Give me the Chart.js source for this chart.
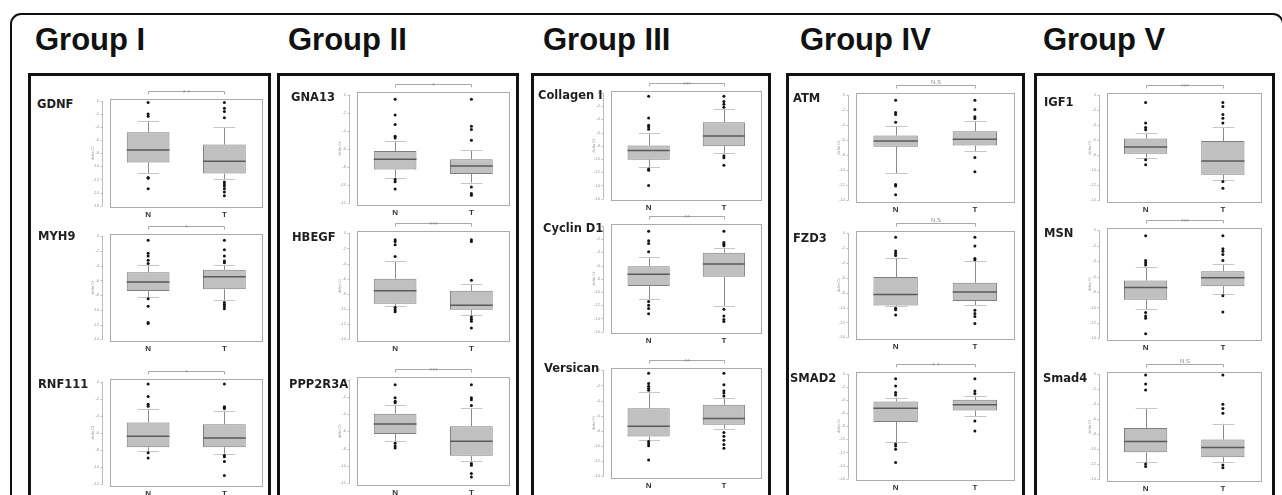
<!DOCTYPE html>
<html>
<head>
<meta charset="utf-8">
<script src="https://cdn.jsdelivr.net/npm/chart.js@4.4.1/dist/chart.umd.min.js"></script>
<style>
  html, body { margin: 0; padding: 0; background: #fff; }
  #fig { position: relative; width: 1282px; height: 495px; overflow: hidden; background: #fff;
         font-family: "Liberation Sans", Arial, sans-serif; }
  .outer { position: absolute; left: 10px; top: 13px; width: 1274px; height: 530px;
           border: 2px solid #111; border-radius: 11px; box-sizing: border-box; }
  .gtitle { position: absolute; top: 22px; font-weight: bold; font-size: 31px; line-height: 36px;
            color: #111; white-space: nowrap; }
  .panel { position: absolute; top: 73px; height: 470px; border: 3px solid #111; box-sizing: border-box; }
  .gene { position: absolute; font-family: "DejaVu Sans", sans-serif; font-weight: bold; font-size: 11.5px;
          line-height: 14px; color: #1f1f1f; white-space: nowrap; transform: translateY(-50%); }
  canvas { position: absolute; }
</style>
</head>
<body>
<div id="fig"><div class="outer"></div></div>
<script>
// ---- data ----
const groupNames = ['Group I', 'Group II', 'Group III', 'Group IV', 'Group V'];
const genes = ['GDNF', 'MYH9', 'RNF111', 'GNA13', 'HBEGF', 'PPP2R3A', 'Collagen I', 'Cyclin D1',
               'Versican', 'ATM', 'FZD3', 'SMAD2', 'IGF1', 'MSN', 'Smad4'];
const sampleLabels = ['N', 'T'];
const significance = ['* *', '*', '*', '*', '***', '***', '***', '**', '**', 'N.S', 'N.S', '* *', '***', '***', 'N.S'];
const axisLow = [-16, -14, -12, -12, -14, -12, -16, -16, -14, -14, -14, -16, -14, -14, -14];
const yAxisTitle = 'delta Ct';

// [lower whisker, Q1, median, Q3, upper whisker]
const normalBox = [
  [-11.0, -9.4, -7.5, -4.8, -3.0],
  [-8.3, -7.45, -6.2, -4.9, -3.9],
  [-8.15, -7.7, -6.4, -4.8, -3.2],
  [-9.2, -8.3, -7.15, -6.25, -5.1],
  [-9.65, -9.3, -7.6, -6.0, -3.7],
  [-7.15, -6.3, -5.15, -3.95, -3.0],
  [-11.2, -10.1, -8.7, -7.95, -6.0],
  [-11.1, -9.1, -7.3, -6.1, -4.7],
  [-9.25, -8.75, -7.4, -5.0, -2.9],
  [-10.4, -6.85, -6.1, -5.35, -4.1],
  [-9.8, -9.7, -8.25, -5.9, -3.3],
  [-10.4, -7.35, -5.25, -4.2, -3.6],
  [-8.3, -7.8, -6.9, -5.75, -5.0],
  [-10.25, -9.0, -7.4, -6.5, -4.8],
  [-11.7, -10.4, -8.95, -7.15, -4.55]
];
const tumorBox = [
  [-12.0, -11.1, -9.2, -6.65, -4.0],
  [-8.7, -7.2, -5.5, -4.55, -3.9],
  [-8.45, -7.7, -6.6, -5.0, -3.4],
  [-9.75, -8.8, -7.9, -7.15, -6.15],
  [-10.85, -10.1, -9.5, -7.6, -6.65],
  [-9.45, -8.85, -7.15, -5.4, -3.3],
  [-9.1, -8.05, -6.5, -4.45, -2.5],
  [-12.1, -7.7, -5.75, -4.05, -3.4],
  [-7.7, -7.2, -6.35, -4.55, -3.6],
  [-7.45, -6.7, -5.85, -4.8, -3.45],
  [-9.7, -9.1, -7.9, -6.65, -3.75],
  [-6.5, -5.6, -4.7, -3.95, -3.3],
  [-11.25, -10.6, -8.75, -6.1, -4.25],
  [-8.25, -7.25, -6.15, -5.3, -4.4],
  [-11.7, -11.05, -9.75, -8.7, -6.6]
];
const normalOutliers = [
  [-0.25, -2.0, -2.35, -11.7, -11.8, -13.4],
  [-0.55, -2.3, -2.7, -3.25, -3.7, -8.5, -9.5, -11.7, -11.85],
  [-0.3, -1.75, -2.65, -2.9, -8.35, -8.95],
  [-0.5, -2.25, -3.3, -4.6, -4.8, -9.4, -9.65, -10.45],
  [-0.85, -1.1, -1.5, -3.05, -9.8, -10.1, -10.35],
  [-0.6, -2.1, -2.5, -2.7, -7.4, -7.7, -7.95],
  [-0.5, -3.8, -4.9, -5.15, -5.5, -11.5, -11.7, -14.0],
  [-0.8, -2.25, -2.65, -3.9, -11.45, -12.0, -12.5, -13.3],
  [-0.4, -1.75, -2.1, -2.4, -2.65, -9.4, -9.7, -9.95, -11.85],
  [-0.65, -2.3, -2.55, -3.6, -11.9, -12.1, -13.25],
  [-0.55, -2.4, -2.7, -3.0, -10.1, -10.3, -11.0],
  [-0.75, -1.85, -2.85, -3.2, -10.7, -11.0, -11.5, -13.55],
  [-0.95, -3.7, -4.3, -4.6, -8.6, -9.25],
  [-0.7, -3.9, -4.2, -4.5, -10.65, -11.1, -11.4, -13.4],
  [-0.1, -1.3, -2.1, -11.95, -12.3]
];
const tumorOutliers = [
  [-0.25, -1.1, -1.6, -2.55, -12.4, -12.7, -13.0, -13.4, -13.9, -14.5],
  [-0.55, -1.85, -2.7, -3.35, -3.6, -9.0, -9.25, -9.55, -9.85],
  [-0.3, -2.95, -3.05, -3.15, -8.65, -8.8, -9.35, -11.0],
  [-0.5, -3.5, -3.85, -5.05, -10.25, -10.95, -11.15],
  [-0.85, -1.1, -6.2, -11.05, -11.35, -11.6, -12.5],
  [-0.6, -2.1, -2.35, -3.0, -9.75, -9.95, -10.9, -11.3],
  [-0.5, -1.3, -1.7, -2.15, -9.5, -9.8, -10.95],
  [-0.8, -2.5, -2.75, -3.0, -12.6, -13.65, -14.15, -14.45],
  [-0.4, -1.9, -2.7, -3.0, -3.4, -8.2, -8.7, -9.25, -9.8, -10.3],
  [-0.65, -1.9, -2.85, -3.1, -8.3, -10.2],
  [-0.55, -1.7, -3.4, -3.55, -10.35, -10.8, -11.2, -12.15],
  [-0.75, -2.6, -3.0, -7.2, -8.7],
  [-0.95, -1.5, -2.55, -3.05, -3.7, -11.5, -12.4],
  [-0.7, -2.4, -2.7, -3.15, -3.9, -8.5, -10.6],
  [-0.1, -4.0, -4.55, -5.2, -12.1, -12.45]
];

// ---- layout ----
const titleX = [35, 288, 543, 800, 1043];
const panelX = [[28, 271], [277, 519], [531, 771], [786, 1025], [1034, 1275]];
const plotX = [[110, 263], [357, 510], [611, 762], [856, 1015], [1107, 1262]];
const plotY = [
  [[99, 209], [234, 343], [379, 488]],
  [[92, 207], [231, 343], [377, 487]],
  [[91, 202], [224, 335], [368, 480]],
  [[93, 204], [231, 341], [372, 482]],
  [[93, 204], [228, 342], [372, 483]]
];
const geneLabelX = [[37, 38, 38], [291, 292, 289], [538, 543, 544], [793, 793, 790], [1044, 1044, 1043]];
const geneLabelY = [[104, 236, 384], [97, 237, 384], [95, 228, 368], [98, 238, 378], [102, 233, 378]];
const AXIS_W = 26, TOP_PAD = 18, X_AXIS_H = 12;

// Box-plot decorations drawn through the chart's own scales:
// plot frame, offset y axis, whiskers, staples, medians and the significance bracket.
const boxDecor = {
  id: 'boxDecor',
  beforeDatasetsDraw(chart, args, opts) {
    const g = opts.gene;
    const { ctx, chartArea: a, scales: { x, y } } = chart;
    ctx.save();
    ctx.lineWidth = 1;
    ctx.strokeStyle = '#ababab';
    ctx.strokeRect(Math.round(a.left) + 0.5, Math.round(a.top) + 0.5,
                   Math.round(a.right - a.left) - 1, Math.round(a.bottom - a.top) - 1);
    const ax = Math.round(a.left) - 7.5;
    ctx.strokeStyle = '#bcbcbc';
    ctx.beginPath();
    ctx.moveTo(ax, y.getPixelForValue(0));
    ctx.lineTo(ax, y.getPixelForValue(axisLow[g]));
    y.ticks.forEach(t => {
      const py = Math.round(y.getPixelForValue(t.value)) + 0.5;
      ctx.moveTo(ax - 2, py);
      ctx.lineTo(ax, py);
    });
    ctx.stroke();
    const meta = chart.getDatasetMeta(0);
    [normalBox[g], tumorBox[g]].forEach((s, i) => {
      const cx = Math.round(x.getPixelForValue(i)) + 0.5;
      const hw = meta.data[i].width / 4;
      ctx.strokeStyle = '#8a8a8a';
      ctx.beginPath();
      ctx.moveTo(cx, y.getPixelForValue(s[0]));
      ctx.lineTo(cx, y.getPixelForValue(s[1]));
      ctx.moveTo(cx, y.getPixelForValue(s[3]));
      ctx.lineTo(cx, y.getPixelForValue(s[4]));
      ctx.stroke();
      ctx.strokeStyle = '#c6c6c6';
      ctx.beginPath();
      [s[0], s[4]].forEach(v => {
        const py = Math.round(y.getPixelForValue(v)) + 0.5;
        ctx.moveTo(cx - hw, py);
        ctx.lineTo(cx + hw, py);
      });
      ctx.stroke();
    });
    ctx.restore();
  },
  afterDatasetDraw(chart, args, opts) {
    if (args.index !== 0) return;
    const g = opts.gene;
    const { ctx, scales: { y } } = chart;
    const meta = chart.getDatasetMeta(0);
    ctx.save();
    ctx.strokeStyle = '#5a5a5a';
    ctx.lineWidth = 1.5;
    [normalBox[g], tumorBox[g]].forEach((s, i) => {
      const el = meta.data[i];
      const py = y.getPixelForValue(s[2]);
      ctx.beginPath();
      ctx.moveTo(el.x - el.width / 2, py);
      ctx.lineTo(el.x + el.width / 2, py);
      ctx.stroke();
    });
    ctx.restore();
  },
  afterDraw(chart, args, opts) {
    const g = opts.gene;
    const { ctx, chartArea: a, scales: { x } } = chart;
    const x0 = Math.round(x.getPixelForValue(0)) + 0.5;
    const x1 = Math.round(x.getPixelForValue(1)) + 0.5;
    const y0 = Math.round(a.top) - 7.5;
    ctx.save();
    ctx.strokeStyle = '#a8a8a8';
    ctx.lineWidth = 1;
    ctx.beginPath();
    ctx.moveTo(x0, y0 + 3);
    ctx.lineTo(x0, y0);
    ctx.lineTo(x1, y0);
    ctx.lineTo(x1, y0 + 3);
    ctx.stroke();
    const txt = significance[g];
    const stars = txt.indexOf('*') >= 0;
    ctx.fillStyle = '#8a8a8a';
    ctx.textAlign = 'center';
    ctx.textBaseline = 'alphabetic';
    ctx.font = (stars ? '7px' : '6px') + ' "Liberation Sans", Arial, sans-serif';
    ctx.fillText(txt, (x0 + x1) / 2, stars ? y0 + 3 : y0 - 1.5);
    ctx.restore();
  }
};

const fig = document.getElementById('fig');

groupNames.forEach((name, k) => {
  const t = document.createElement('div');
  t.className = 'gtitle';
  t.style.left = titleX[k] + 'px';
  t.textContent = name;
  fig.appendChild(t);
  const p = document.createElement('div');
  p.className = 'panel';
  p.style.left = panelX[k][0] + 'px';
  p.style.width = (panelX[k][1] - panelX[k][0]) + 'px';
  fig.appendChild(p);
});

genes.forEach((gene, g) => {
  const k = Math.floor(g / 3), r = g % 3;
  const [pl, pr] = plotX[k];
  const [pt, pb] = plotY[k][r];

  const cv = document.createElement('canvas');
  const w = AXIS_W + (pr - pl) + 1;
  const h = TOP_PAD + (pb - pt) + X_AXIS_H;
  cv.width = w; cv.height = h;
  cv.style.width = w + 'px'; cv.style.height = h + 'px';
  cv.style.left = (pl - AXIS_W) + 'px';
  cv.style.top = (pt - TOP_PAD) + 'px';
  fig.appendChild(cv);

  const lab = document.createElement('div');
  lab.className = 'gene';
  lab.style.left = geneLabelX[k][r] + 'px';
  lab.style.top = geneLabelY[k][r] + 'px';
  lab.textContent = gene;
  fig.appendChild(lab);

  const n = normalBox[g], tm = tumorBox[g];
  const points = normalOutliers[g].map(v => ({ x: sampleLabels[0], y: v }))
    .concat(tumorOutliers[g].map(v => ({ x: sampleLabels[1], y: v })));

  new Chart(cv, {
    type: 'bar',
    data: {
      labels: sampleLabels,
      datasets: [
        {
          data: [[n[1], n[3]], [tm[1], tm[3]]],
          backgroundColor: '#c0c0c0',
          borderColor: '#7e7e7e',
          borderWidth: 1,
          borderSkipped: false,
          barPercentage: 0.56,
          categoryPercentage: 1
        },
        {
          type: 'scatter',
          data: points,
          pointRadius: 1.5,
          pointHoverRadius: 1.5,
          backgroundColor: '#141414',
          borderColor: '#141414',
          borderWidth: 0
        }
      ]
    },
    options: {
      responsive: false,
      animation: false,
      devicePixelRatio: 1,
      events: [],
      layout: { padding: { top: TOP_PAD, right: 1, bottom: 0, left: 0 } },
      plugins: {
        legend: { display: false },
        tooltip: { enabled: false },
        boxDecor: { gene: g }
      },
      scales: {
        x: {
          grid: { display: false, drawTicks: false },
          border: { display: false },
          ticks: { font: { size: 8, weight: 'bold', family: '"Liberation Sans", Arial, sans-serif' },
                   color: '#333', padding: 2 },
          afterFit: s => { s.height = X_AXIS_H; }
        },
        y: {
          min: axisLow[g] - 0.3,
          max: 0.3,
          grid: { display: false, drawTicks: false },
          border: { display: false },
          ticks: { stepSize: 2, includeBounds: false, font: { size: 4 }, color: '#9a9a9a', padding: 11 },
          title: { display: true, text: yAxisTitle, font: { size: 4 }, color: '#9a9a9a', padding: { top: 6, bottom: 0 } },
          afterFit: s => { s.width = AXIS_W; }
        }
      }
    },
    plugins: [boxDecor]
  });
});
</script>
</body>
</html>
